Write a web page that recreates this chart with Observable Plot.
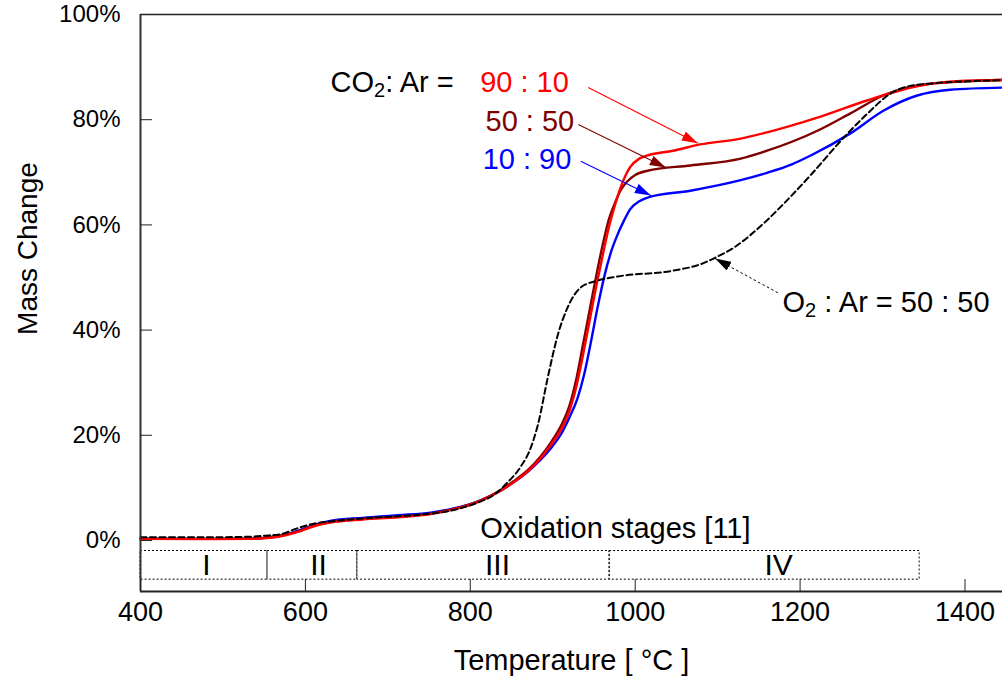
<!DOCTYPE html>
<html>
<head>
<meta charset="utf-8">
<script src="https://cdn.jsdelivr.net/npm/d3@7"></script>
<script src="https://cdn.jsdelivr.net/npm/@observablehq/plot@0.6"></script>
<style>
  body { margin: 0; background: #fff; }
  #chart svg { display: block; font-family: "Liberation Sans", Arial, Helvetica, sans-serif; }
</style>
</head>
<body>
<div id="chart"></div>
<script>
// ---- Data (temperature °C, mass change %) ----
const co2_90_10 = [[400,0.3],[470,0.25],[530,0.3],[550,0.4],[570,0.8],[590,1.6],[610,2.7],[630,3.4],[670,4.0],[712,4.4],[752,5.0],[780,5.9],[812,7.5],[835,9.3],[852,11],[870,13.2],[885,15.6],[898,18.2],[910,21],[920,24.5],[929,29.5],[937,35.5],[945,42],[953,48.5],[961,54.5],[968,59.5],[975,63.5],[982,67],[988,69.3],[994,71],[1005,72.6],[1015,73.2],[1046,74.1],[1079,75.3],[1128,76.4],[1160,77.6],[1221,80.4],[1282,83.7],[1322,85.6],[1362,86.9],[1400,87.4],[1445,87.5]];
const co2_50_50 = [[400,0.3],[470,0.3],[530,0.35],[550,0.5],[570,0.9],[590,1.7],[610,2.8],[630,3.5],[670,4.1],[712,4.5],[752,5.1],[780,6.0],[812,7.6],[835,9.4],[852,11.2],[870,13.4],[885,15.9],[898,18.7],[910,21.8],[920,25.5],[929,31],[937,37.5],[945,44],[953,50.5],[961,56.5],[968,61],[975,64],[982,66.5],[990,68.2],[1000,69.5],[1015,70.3],[1067,71.3],[1128,72.6],[1160,74.1],[1221,77.9],[1261,81.2],[1301,84.6],[1342,86.5],[1403,87.3],[1445,87.6]];
const co2_10_90 = [[400,0.35],[470,0.3],[530,0.35],[550,0.5],[570,0.9],[590,1.8],[610,2.9],[630,3.7],[670,4.3],[712,4.8],[752,5.3],[780,6.1],[812,7.6],[835,9.3],[852,11],[870,13.1],[885,15.3],[898,17.6],[910,20.2],[920,23.3],[930,27],[938,31.5],[946,37.5],[954,44],[963,50.5],[971,55],[979,58.3],[987,61],[994,63],[1005,64.5],[1015,65.2],[1067,66.5],[1128,68.5],[1160,69.9],[1190,71.5],[1213,73.2],[1261,77.4],[1301,81.7],[1342,84.6],[1382,85.7],[1445,86.1]];
const o2_50_50 = [[400,0.6],[470,0.6],[530,0.7],[550,0.9],[570,1.2],[590,2.3],[610,3.2],[630,3.6],[670,4.2],[712,4.6],[752,5.1],[780,5.8],[812,7.4],[828,8.6],[845,11],[861,14],[873,17.5],[882,22],[894,31],[906,39],[918,44.3],[934,48.1],[954,49.4],[979,50.2],[1046,51.3],[1079,52.5],[1100,54],[1120,55.7],[1140,58.1],[1160,60.9],[1180,64],[1213,69.5],[1253,76.6],[1282,81.2],[1310,85],[1330,86.3],[1360,86.9],[1403,87.3],[1445,87.5]];

// Oxidation stages [11]
const stageNames  = ["I", "II", "III", "IV"];
const stageStarts = [400, 554, 663, 969];
const stageEnds   = [554, 663, 969, 1345];
const stageLabelAt = [480, 616, 833, 1174];
const stageBand = [-2.0, -7.45];

const xTicks = [400, 600, 800, 1000, 1200, 1400];
const yTicks = [0, 20, 40, 60, 80, 100];
const xDomain = [400, 1445.5];
const yDomain = [-9.7, 100];

// annotations (data units)
const seriesLabels = ["90 : 10", "50 : 50", "10 : 90"];
const seriesColors = ["#ff0000", "#800000", "#0000ff"];
const labelT = [812, 818.5, 815];
const labelM = [85.2, 77.9, 70.7];
const arrowFrom = [[943, 86.1], [931, 79.1], [934, 72.1]];
const arrowTo   = [[1076, 75.5], [1037, 70.9], [1019, 65.6]];
const o2ArrowFrom = [1173, 47.1];
const o2ArrowTo   = [1097, 53.6];

const toRows = (arr) => arr.map(([t, m]) => ({t, m}));
const stages = stageNames.map((name, i) => ({name, x1: stageStarts[i], x2: stageEnds[i], lx: stageLabelAt[i]}));
const labels = seriesLabels.map((s, i) => ({s, t: labelT[i], m: labelM[i], c: seriesColors[i]}));
const arrows = seriesColors.map((c, i) => ({x1: arrowFrom[i][0], y1: arrowFrom[i][1], x2: arrowTo[i][0], y2: arrowTo[i][1], c}));
const o2Arrow = [{x1: o2ArrowFrom[0], y1: o2ArrowFrom[1], x2: o2ArrowTo[0], y2: o2ArrowTo[1]}];

const axisColor = "#222";

const svg = Plot.plot({
  width: 1002,
  height: 678,
  marginLeft: 140,
  marginRight: 0,
  marginTop: 14,
  marginBottom: 87,
  x: {domain: xDomain, label: null},
  y: {domain: yDomain, label: null},
  marks: [
    // stage boxes
    Plot.rect(stages, {x1: "x1", x2: "x2", y1: stageBand[0], y2: stageBand[1], fill: "none", stroke: "#000", strokeWidth: 1, strokeDasharray: "2,2"}),
    Plot.text(stages, {x: "lx", y: (stageBand[0] + stageBand[1]) / 2, text: "name", fontSize: 30, fill: "#000"}),
    Plot.text(["Oxidation stages [11]"], {x: 976, y: 0.4, text: d => d, lineAnchor: "bottom", fontSize: 29, fill: "#000"}),
    // curves
    Plot.line(toRows(co2_10_90), {x: "t", y: "m", stroke: "#0000ff", strokeWidth: 2.4, curve: "monotone-x"}),
    Plot.line(toRows(co2_50_50), {x: "t", y: "m", stroke: "#800000", strokeWidth: 2.4, curve: "monotone-x"}),
    Plot.line(toRows(co2_90_10), {x: "t", y: "m", stroke: "#ff0000", strokeWidth: 2.4, curve: "monotone-x"}),
    Plot.line(toRows(o2_50_50), {x: "t", y: "m", stroke: "#000", strokeWidth: 2, strokeDasharray: "6,3.5", curve: "monotone-x"}),
    // arrows
    Plot.link(arrows, {x1: "x1", y1: "y1", x2: "x2", y2: "y2", stroke: "c", strokeWidth: 1.1, markerEnd: "arrow"}),
    Plot.link(o2Arrow, {x1: "x1", y1: "y1", x2: "x2", y2: "y2", stroke: "#000", strokeWidth: 1, strokeDasharray: "2.5,2.5", markerEnd: "arrow"}),
    // annotation text
    Plot.text(["CO2: Ar ="], {x: 630.5, y: 85.2, text: d => d, textAnchor: "start", lineAnchor: "bottom", fontSize: 29, fill: "#000"}),
    Plot.text(labels, {x: "t", y: "m", text: "s", fill: "c", textAnchor: "start", lineAnchor: "bottom", fontSize: 29}),
    Plot.text(["O2 : Ar = 50 : 50"], {x: 1178.7, y: 43.5, text: d => d, textAnchor: "start", lineAnchor: "bottom", fontSize: 29, fill: "#000"}),
    // frame lines
    Plot.ruleY([100], {stroke: axisColor, strokeWidth: 1.5}),
    Plot.ruleX([xDomain[0]], {stroke: "#333", strokeWidth: 2}),
    Plot.ruleY([yDomain[0]], {stroke: axisColor, strokeWidth: 2}),
    // axes
    Plot.axisY({ticks: yTicks, tickFormat: d => d + "%", tickSize: -12, tickPadding: 32, fontSize: 24, stroke: axisColor, fill: "#000", label: null}),
    Plot.axisX({ticks: xTicks, tickFormat: d => String(d), tickSize: -12, tickPadding: 22, fontSize: 27, stroke: axisColor, fill: "#000", label: null}),
    // axis titles
    Plot.text(["Mass Change"], {frameAnchor: "left", y: 55.5, dx: -112, rotate: -90, textAnchor: "middle", lineAnchor: "middle", text: d => d, fontSize: 28, fill: "#000"}),
    Plot.text(["Temperature [ °C ]"], {frameAnchor: "bottom", dy: 78, textAnchor: "middle", lineAnchor: "bottom", text: d => d, fontSize: 29, fill: "#000"})
  ]
});

// subscripts
function subscript(el, a, b, c) {
  const s = d3.select(el);
  s.text(null);
  s.append("tspan").text(a);
  s.append("tspan").attr("font-size", "20px").attr("dy", "5").text(b);
  s.append("tspan").attr("dy", "-5").text(c);
}
d3.select(svg).selectAll("text").each(function () {
  const t = this.textContent;
  if (t === "CO2: Ar =") subscript(this, "CO", "2", ": Ar =");
  else if (t === "O2 : Ar = 50 : 50") subscript(this, "O", "2", " : Ar = 50 : 50");
});
// filled arrowheads
d3.select(svg).selectAll("marker").each(function () {
  const m = d3.select(this);
  const c = m.attr("stroke") || "#000";
  m.attr("viewBox", "-16 -5 16 10")
   .attr("markerWidth", 16).attr("markerHeight", 10)
   .attr("markerUnits", "userSpaceOnUse")
   .attr("refX", 0).attr("refY", 0)
   .attr("fill", c).attr("stroke", "none").attr("stroke-dasharray", null);
  m.selectAll("path").attr("d", "M0,0L-16,-5L-16,5Z").attr("stroke", "none").attr("fill", c);
});

document.getElementById("chart").appendChild(svg);
</script>
</body>
</html>
